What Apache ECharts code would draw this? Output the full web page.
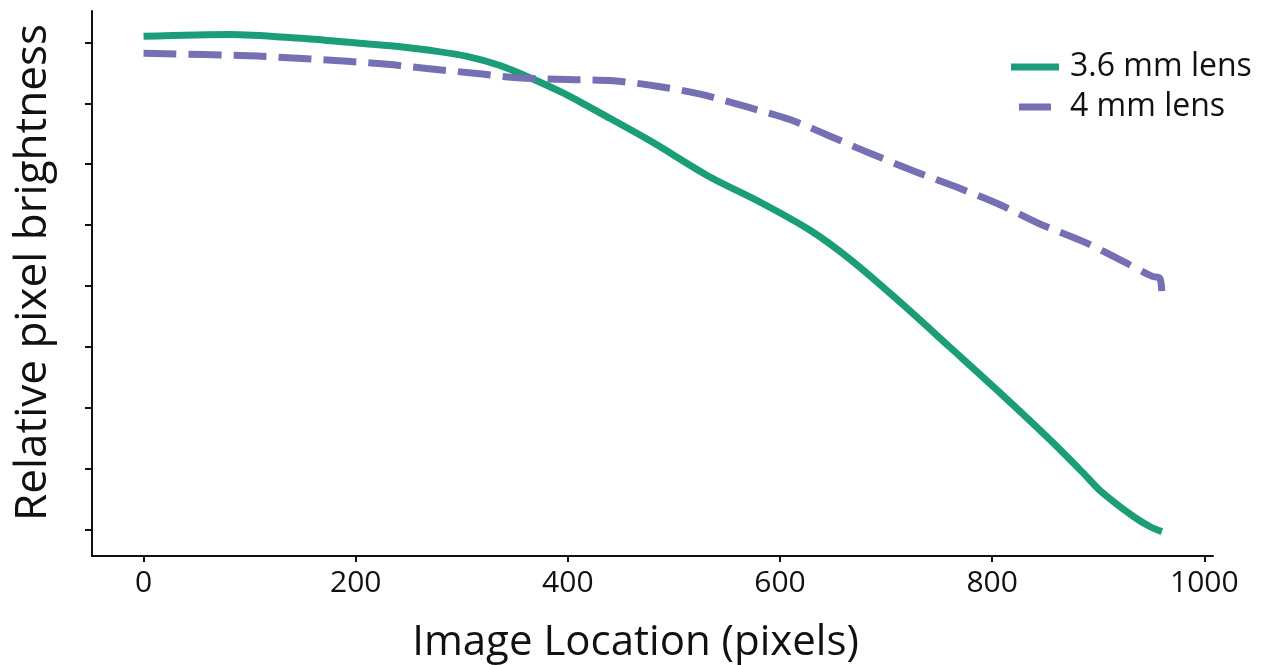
<!DOCTYPE html>
<html>
<head>
<meta charset="utf-8">
<script src="https://cdn.jsdelivr.net/npm/echarts@6/dist/echarts.min.js"></script>
<style>
  html, body { margin: 0; padding: 0; background: #fff; }
  #chart { width: 1268px; height: 665px; }
</style>
</head>
<body>
<div id="chart"></div>
<script>
// image location (pixels) and relative brightness
const xLens36 = [0, 82, 145, 207, 242, 270, 305, 336, 367, 393, 414, 440, 478, 534, 581, 628, 666, 713, 760, 808, 855, 886, 902, 933, 949, 960]
const yLens36 = [1.010, 1.013, 1.007, 0.998, 0.993, 0.987, 0.977, 0.962, 0.940, 0.919, 0.900, 0.875, 0.838, 0.779, 0.738, 0.692, 0.644, 0.574, 0.500, 0.424, 0.347, 0.293, 0.264, 0.222, 0.205, 0.197]

const xLens4 = [0, 100, 145, 192, 230, 267, 314, 352, 400, 443, 484, 525, 569, 610, 650, 682, 729, 770, 808, 845, 886, 924, 951, 958, 960]
const yLens4 = [0.982, 0.978, 0.974, 0.969, 0.964, 0.957, 0.949, 0.942, 0.939, 0.937, 0.928, 0.915, 0.894, 0.873, 0.844, 0.820, 0.787, 0.760, 0.733, 0.702, 0.673, 0.640, 0.616, 0.613, 0.586]

const xTicks = [0, 200, 400, 600, 800, 1000]
const yTicks = [0.2, 0.3, 0.4, 0.5, 0.6, 0.7, 0.8, 0.9, 1.0]

const font = 'Open Sans'
const green = '#1b9e77'
const purple = '#7570b3'

let myChart = echarts.init(document.getElementById('chart'))

myChart.setOption({
  animation: false,
  grid: { left: 92, right: 55, top: 11, bottom: 109, outerBoundsMode: 'none' },
  legend: {
    orient: 'vertical',
    left: 1006,
    top: 46,
    itemWidth: 48,
    itemHeight: 7,
    itemGap: 8,
    textStyle: { fontFamily: font, fontSize: 32, color: '#111', padding: [0, 0, 0, 6] },
    data: [
      { name: '3.6 mm lens', icon: 'rect', itemStyle: { color: green } },
      { name: '4 mm lens', icon: 'path://M0 0H32V7H0Z', itemStyle: { color: purple } }
    ]
  },
  xAxis: {
    type: 'value',
    min: -48.6,
    max: 1008.2,
    name: 'Image Location (pixels)',
    nameLocation: 'middle',
    nameGap: 66,
    nameTextStyle: { fontFamily: font, fontSize: 42, color: '#111', padding: [0, 34, 0, 0] },
    axisLine: { onZero: false, lineStyle: { color: '#111', width: 2 } },
    axisTick: { customValues: xTicks, length: 6, lineStyle: { color: '#111', width: 2 } },
    axisLabel: {
      customValues: xTicks, fontFamily: font, fontSize: 30, color: '#111', margin: 12,
      formatter: v => String(v)
    },
    splitLine: { show: false }
  },
  yAxis: {
    type: 'value',
    min: 0.157,
    max: 1.0515,
    name: 'Relative pixel brightness',
    nameLocation: 'middle',
    nameGap: 37,
    nameTextStyle: { fontFamily: font, fontSize: 44, color: '#111', padding: [0, 0, 0, 22] },
    axisLine: { show: true, onZero: false, lineStyle: { color: '#111', width: 2 } },
    axisTick: { show: true, customValues: yTicks, length: 7, lineStyle: { color: '#111', width: 2 } },
    axisLabel: { show: false },
    splitLine: { show: false }
  },
  series: [
    {
      name: '3.6 mm lens',
      type: 'line',
      showSymbol: false,
      symbol: 'none',
      smooth: 0.3,
      data: xLens36.map((x, i) => [x, yLens36[i]]),
      lineStyle: { color: green, width: 7, cap: 'butt', join: 'round' },
      itemStyle: { color: green }
    },
    {
      name: '4 mm lens',
      type: 'line',
      showSymbol: false,
      symbol: 'none',
      smooth: 0.3,
      data: xLens4.map((x, i) => [x, yLens4[i]]),
      lineStyle: { color: purple, width: 7, type: [33, 12], cap: 'butt', join: 'round' },
      itemStyle: { color: purple }
    }
  ]
})
</script>
</body>
</html>
